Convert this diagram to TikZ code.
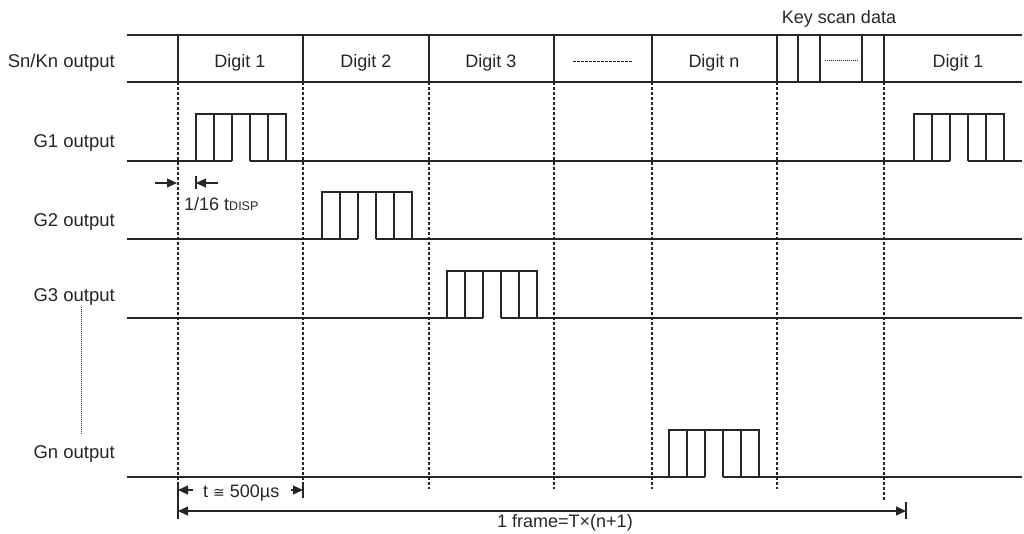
\documentclass[tikz,border=0pt]{standalone}
\usepackage{fontspec}
\setmainfont{Liberation Sans}
\newfontfamily\symfont{DejaVu Sans}
\usetikzlibrary{arrows.meta}
\begin{document}
\begin{tikzpicture}[x=1pt,y=-1pt,
  ink/.style={draw=black!85, line width=1.4pt},
  gridline/.style={draw=black!85, line width=1.2pt, dash pattern=on 3pt off 2pt},
  lbl/.style={anchor=base east, inner sep=0pt, font=\fontsize{18.5}{21}\selectfont, text=black!85},
  txt/.style={anchor=base, inner sep=0pt, font=\fontsize{18}{21}\selectfont, text=black!85},
  txtw/.style={anchor=base west, inner sep=0pt, font=\fontsize{18}{21}\selectfont, text=black!85},
  dimline/.style={draw=black!85, line width=1.2pt},
  tipend/.style={dimline, -{Triangle[length=10pt,width=9pt]}},
  gpulse/.pic={
    \draw[ink] (0,0) -- (0,-47) -- (90,-47) -- (90,0);
    \draw[ink] (18,0) -- (18,-47) (36,0) -- (36,-47)
               (54,0) -- (54,-47) (72,0) -- (72,-47);
    \draw[ink] (0,0) -- (36,0) (54,0) -- (90,0);
  }
]
\useasboundingbox (0,0) rectangle (1024,533);

% ---- Sn/Kn row ----
\draw[ink] (127,35) -- (1022,35);
\draw[ink] (127,82) -- (1022,82);
\foreach \xx in {178,303,429,554,652,777,798,820,862,884}
  \draw[ink] (\xx,35) -- (\xx,82);
\draw[dimline, line width=1pt, dash pattern=on 2.5pt off 1.5pt] (573,61) -- (633,61);
\draw[draw=black!85, line width=0.9pt, dash pattern=on 1pt off 1pt] (825,60) -- (859,60);

\node[txt] (d1) at (240,67) {Digit 1};
\node[txt] (d2) at (366,67) {Digit 2};
\node[txt] (d3) at (491,67) {Digit 3};
\node[txt] (dn) at (714,67) {Digit n};
\node[txt] (d1b) at (958,67) {Digit 1};
\node[txt] (ksd) at (839,23) {Key scan data};

% ---- dashed time grid ----
\draw[gridline] (178,82) -- (178,483);
\draw[ink, line width=1.2pt] (178,483) -- (178,519);
\draw[gridline] (303,82) -- (303,483);
\draw[ink, line width=1.2pt] (303,483) -- (303,498);
\foreach \xx in {429,554,652,777}
  \draw[gridline] (\xx,82) -- (\xx,489);
\draw[gridline] (884,82) -- (884,500);

% ---- signal baselines (gaps under the pulse notches) ----
\draw[ink] (127,161) -- (232,161) (250,161) -- (950,161) (968,161) -- (1022,161);
\draw[ink] (127,239) -- (358,239) (376,239) -- (1022,239);
\draw[ink] (127,318) -- (483,318) (501,318) -- (1022,318);
\draw[ink] (127,477) -- (705,477) (723,477) -- (1022,477);

% ---- pulses ----
\pic at (196,161) {gpulse};
\pic at (914,161) {gpulse};
\pic at (322,239) {gpulse};
\pic at (447,318) {gpulse};
\pic at (669,477) {gpulse};

% ---- labels ----
\node[lbl] (lsn) at (115,67) {Sn/Kn output};
\node[lbl] (lg1) at (115,147) {G1 output};
\node[lbl] (lg2) at (115,226) {G2 output};
\node[lbl] (lg3) at (115,301) {G3 output};
\node[lbl] (lgn) at (115,458) {Gn output};
\draw[draw=black!85, line width=0.9pt, dash pattern=on 1pt off 1pt] (81,307) -- (81,435);

% ---- 1/16 tDISP ----
\coordinate (a1s) at (155,183);
\coordinate (a1e) at (177,183);
\coordinate (a2s) at (218,183);
\coordinate (a2e) at (196,183);
\draw[tipend] (a1s) -- (a1e);
\draw[tipend] (a2s) -- (a2e);
\draw[dimline] (196,176) -- (196,189);
\node[txtw] (tdisp) at (184,210) {1/16 t{\fontsize{12.5}{14}\selectfont DISP}};

% ---- t = 500us ----
\coordinate (t1s) at (193,490);
\coordinate (t1e) at (178,490);
\coordinate (t2s) at (291,490);
\coordinate (t2e) at (303,490);
\draw[tipend] (t1s) -- (t1e);
\draw[tipend] (t2s) -- (t2e);
\node[txtw] (tlab) at (203,497) {t {\symfont\fontsize{14}{16}\selectfont ≅} 500µs};

% ---- 1 frame ----
\coordinate (fs) at (178,511);
\coordinate (fe) at (906,511);
\draw[dimline, {Triangle[length=10pt,width=9pt]}-{Triangle[length=10pt,width=9pt]}] (fs) -- (fe);
\draw[dimline] (906,502) -- (906,519);
\node[txtw] (flab) at (497,527) {1 frame=T×(n+1)};
\end{tikzpicture}
\end{document}
